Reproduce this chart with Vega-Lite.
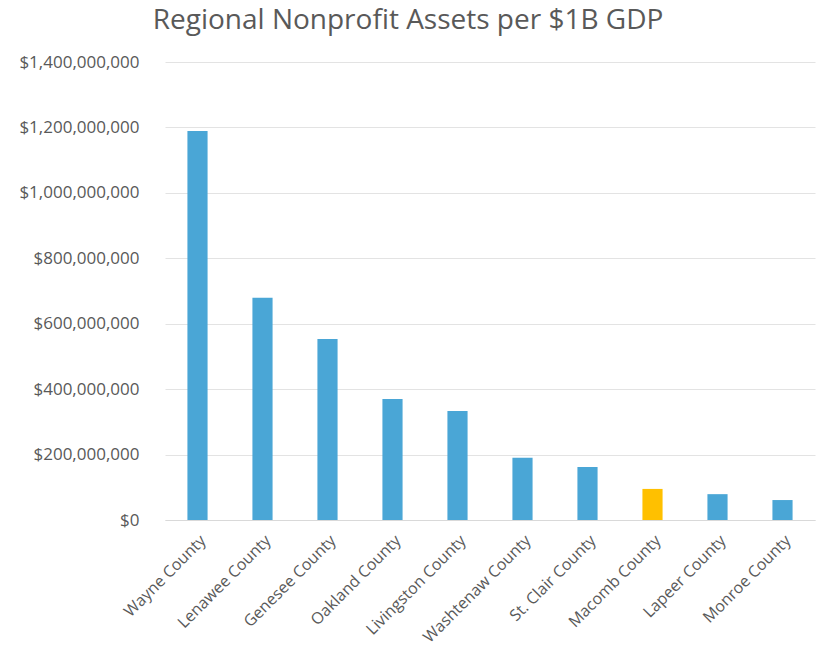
{
  "$schema": "https://vega.github.io/schema/vega-lite/v6.json",
  "autosize": "none",
  "width": 650,
  "height": 458,
  "padding": {"left": 165, "top": 62, "right": 2, "bottom": 138},
  "background": "white",
  "title": {
    "text": "Regional Nonprofit Assets per $1B GDP",
    "font": "Open Sans",
    "fontSize": 28,
    "fontWeight": "normal",
    "color": "#595959",
    "anchor": "middle",
    "dx": -82,
    "offset": 18
  },
  "data": {
    "values": [
      {"county": "Wayne County", "assets": 1189000000, "highlight": "no"},
      {"county": "Lenawee County", "assets": 679000000, "highlight": "no"},
      {"county": "Genesee County", "assets": 553000000, "highlight": "no"},
      {"county": "Oakland County", "assets": 370000000, "highlight": "no"},
      {"county": "Livingston County", "assets": 333000000, "highlight": "no"},
      {"county": "Washtenaw County", "assets": 190000000, "highlight": "no"},
      {"county": "St. Clair County", "assets": 162000000, "highlight": "no"},
      {"county": "Macomb County", "assets": 95000000, "highlight": "yes"},
      {"county": "Lapeer County", "assets": 79000000, "highlight": "no"},
      {"county": "Monroe County", "assets": 61000000, "highlight": "no"}
    ]
  },
  "mark": {"type": "bar"},
  "encoding": {
    "x": {
      "field": "county",
      "type": "nominal",
      "sort": null,
      "title": null,
      "scale": {"paddingInner": 0.69, "paddingOuter": 0.345},
      "axis": {
        "labelAngle": -45,
        "labelFont": "Open Sans",
        "labelFontSize": 16,
        "labelColor": "#595959",
        "ticks": false,
        "domainColor": "#d9d9d9",
        "labelPadding": 12
      }
    },
    "y": {
      "field": "assets",
      "type": "quantitative",
      "title": null,
      "scale": {"domain": [0, 1400000000], "nice": false},
      "axis": {
        "values": [0, 200000000, 400000000, 600000000, 800000000, 1000000000, 1200000000, 1400000000],
        "format": "$,.0f",
        "labelFont": "Open Sans",
        "labelFontSize": 17,
        "labelColor": "#595959",
        "ticks": false,
        "domain": false,
        "gridColor": "#e3e3e3",
        "labelPadding": 26
      }
    },
    "color": {
      "field": "highlight",
      "type": "nominal",
      "scale": {"domain": ["no", "yes"], "range": ["#4aa6d6", "#ffc000"]},
      "legend": null
    }
  },
  "config": {"view": {"stroke": null}}
}
